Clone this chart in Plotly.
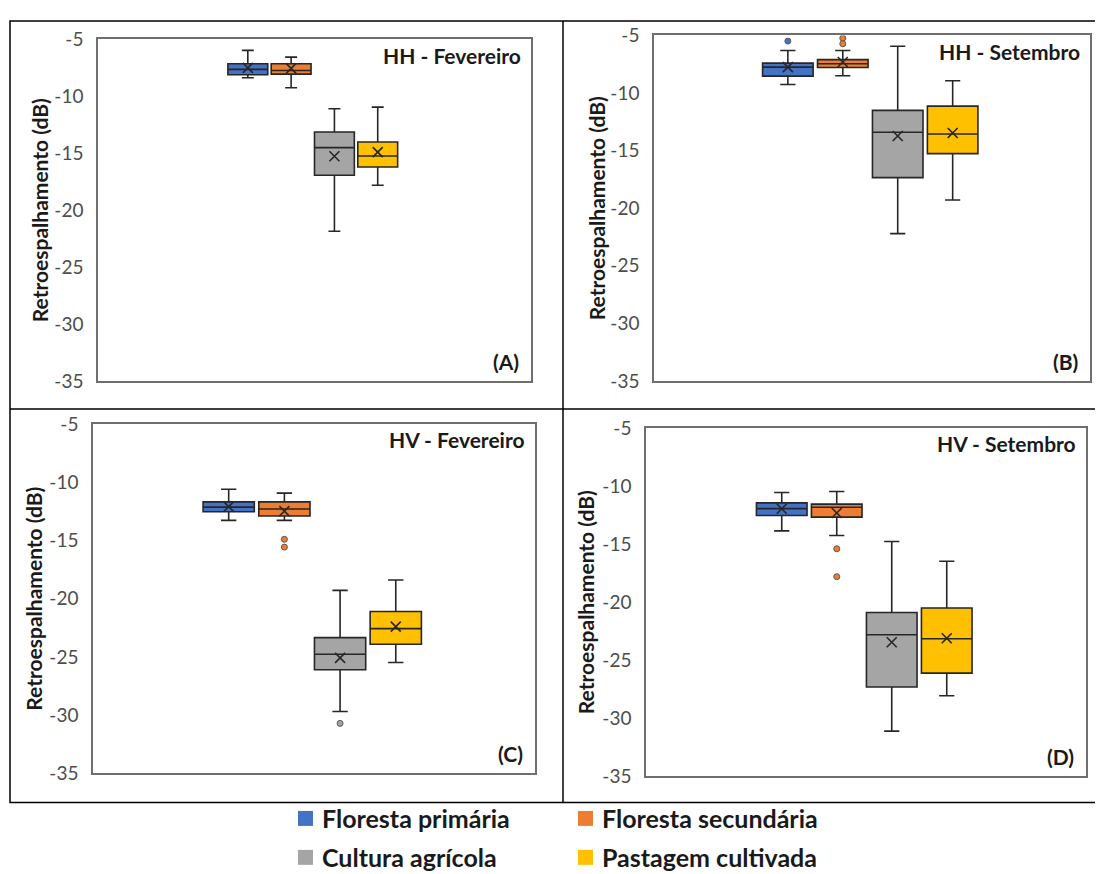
import plotly.graph_objects as go

# ---------------- data ----------------
series = ["Floresta primária", "Floresta secundária", "Cultura agrícola", "Pastagem cultivada"]
colors = ["#4472C4", "#ED7D31", "#A5A5A5", "#FFC000"]
panel_titles = ["HH - Fevereiro", "HH - Setembro", "HV - Fevereiro", "HV - Setembro"]
panel_letters = ["(A)", "(B)", "(C)", "(D)"]
y_ticks = [-5, -10, -15, -20, -25, -30, -35]
y_tick_text = ["-5", "-10", "-15", "-20", "-25", "-30", "-35"]

# HH - Fevereiro
hh_fev_lower = [-8.36, -9.24, -21.84, -17.80]
hh_fev_q1 = [-8.10, -8.04, -16.93, -16.20]
hh_fev_median = [-7.63, -7.72, -14.50, -15.24]
hh_fev_q3 = [-7.13, -7.13, -13.13, -14.00]
hh_fev_upper = [-5.96, -6.55, -11.08, -10.94]
hh_fev_mean = [-7.50, -7.54, -15.26, -14.89]
hh_fev_outliers = [[], [], [], []]

# HH - Setembro
hh_set_lower = [-9.25, -8.50, -22.20, -19.28]
hh_set_q1 = [-8.53, -7.78, -17.34, -15.26]
hh_set_median = [-7.75, -7.45, -13.40, -13.56]
hh_set_q3 = [-7.40, -7.10, -11.50, -11.13]
hh_set_upper = [-6.30, -6.30, -5.93, -8.93]
hh_set_mean = [-7.75, -7.30, -13.73, -13.47]
hh_set_outliers = [[-5.49], [-5.23, -5.72], [], []]

# HV - Fevereiro
hv_fev_lower = [-13.28, -13.28, -29.68, -25.48]
hv_fev_q1 = [-12.54, -12.90, -26.10, -23.91]
hv_fev_median = [-12.14, -12.30, -24.77, -22.57]
hv_fev_q3 = [-11.69, -11.69, -23.34, -21.10]
hv_fev_upper = [-10.60, -10.94, -19.28, -18.40]
hv_fev_mean = [-12.10, -12.48, -25.08, -22.40]
hv_fev_outliers = [[], [-14.90, -15.57], [-30.70], []]

# HV - Setembro
hv_set_lower = [-13.86, -14.26, -31.10, -28.05]
hv_set_q1 = [-12.54, -12.68, -27.30, -26.10]
hv_set_median = [-11.94, -11.82, -22.80, -23.14]
hv_set_q3 = [-11.45, -11.56, -20.88, -20.50]
hv_set_upper = [-10.56, -10.47, -14.78, -16.47]
hv_set_mean = [-11.96, -12.32, -23.45, -23.10]
hv_set_outliers = [[], [-15.40, -17.80], [], []]

panels = [
    (hh_fev_lower, hh_fev_q1, hh_fev_median, hh_fev_q3, hh_fev_upper, hh_fev_mean, hh_fev_outliers),
    (hh_set_lower, hh_set_q1, hh_set_median, hh_set_q3, hh_set_upper, hh_set_mean, hh_set_outliers),
    (hv_fev_lower, hv_fev_q1, hv_fev_median, hv_fev_q3, hv_fev_upper, hv_fev_mean, hv_fev_outliers),
    (hv_set_lower, hv_set_q1, hv_set_median, hv_set_q3, hv_set_upper, hv_set_mean, hv_set_outliers),
]

# ---------------- layout helpers (target pixels -> paper) ----------------
LEFT = 8
Y0, SY = 19.5, 0.975
W, H = 1087, 874


def px(x):
    return (x - LEFT) / W


def py(y):
    fy = (y - Y0) / SY
    return 1 - fy / H


# plot-area boxes in target pixels: (left, top, right, bottom)
plot_rects = [(98, 39, 531, 381), (654, 35, 1090, 381), (93, 424, 535, 774), (646, 428, 1086, 777)]
slot_spacing = [0.100, 0.126, 0.126, 0.125]
group_center = -0.004
box_fill = 0.92
ytitle_x = [39, 596, 34, 585]

LINE = "#262626"
FONT = "Lato"

fig = go.Figure()
annotations = []
shapes = []

for p, (lo, q1, med, q3, up, mn, outl) in enumerate(panels):
    ax = "" if p == 0 else str(p + 1)
    xref, yref = "x" + ax, "y" + ax
    sp = slot_spacing[p]
    for i, name in enumerate(series):
        pos = group_center + (i - 1.5) * sp
        fig.add_trace(go.Box(
            x=[pos], q1=[q1[i]], median=[med[i]], q3=[q3[i]],
            lowerfence=[lo[i]], upperfence=[up[i]],
            width=sp * box_fill, whiskerwidth=0.3,
            fillcolor=colors[i], line=dict(color=LINE, width=1.6),
            boxpoints=False, name=name, showlegend=False,
            xaxis=xref, yaxis=yref, hoverinfo="skip",
        ))
        fig.add_trace(go.Scatter(
            x=[pos], y=[mn[i]], mode="markers",
            marker=dict(symbol="x-thin", size=10, line=dict(color=LINE, width=1.6)),
            showlegend=False, xaxis=xref, yaxis=yref, hoverinfo="skip",
        ))
        if outl[i]:
            fig.add_trace(go.Scatter(
                x=[pos] * len(outl[i]), y=outl[i], mode="markers",
                marker=dict(symbol="circle", size=6, color=colors[i],
                            line=dict(color="#595959", width=1)),
                showlegend=False, xaxis=xref, yaxis=yref, hoverinfo="skip",
            ))

    l, t, r, b = plot_rects[p]
    axis_common = dict(showline=True, mirror=True, linecolor="#6f6f6f", linewidth=1.5,
                       showgrid=False, zeroline=False)
    fig.update_layout(**{
        "xaxis" + ax: dict(domain=[px(l), px(r)], range=[-0.5, 0.5], showticklabels=False,
                           anchor=yref, **axis_common),
        "yaxis" + ax: dict(domain=[py(b), py(t)], range=[-35, -5], tickvals=y_ticks,
                           ticktext=y_tick_text,
                           ticks="outside", ticklen=9, tickcolor="rgba(0,0,0,0)",
                           tickfont=dict(family=FONT, size=19, color="#4d4d4d"),
                           anchor=xref, **axis_common),
    })
    annotations.append(dict(text="<b>" + panel_titles[p] + "</b>", xref="paper", yref="paper",
                            x=px(r - 8), y=py(t + 16), xanchor="right", yanchor="middle",
                            showarrow=False, font=dict(family=FONT, size=21, color="#1a1a1a")))
    annotations.append(dict(text="<b>" + panel_letters[p] + "</b>", xref="paper", yref="paper",
                            x=px(r - 10), y=py(b - 20), xanchor="right", yanchor="middle",
                            showarrow=False, font=dict(family=FONT, size=21, color="#1a1a1a")))
    annotations.append(dict(text="<b>Retroespalhamento (dB)</b>", xref="paper", yref="paper",
                            x=px(ytitle_x[p]), y=py((t + b) / 2), textangle=-90,
                            xanchor="center", yanchor="middle", showarrow=False,
                            font=dict(family=FONT, size=21, color="#1a1a1a")))

# table frame (top edge kept just inside the drawable area)
frame_top = max(10, Y0 + 1)
shapes.append(dict(type="rect", xref="paper", yref="paper", x0=px(10), y0=py(frame_top), x1=px(1100),
                   y1=py(803), line=dict(color="black", width=1.5)))
shapes.append(dict(type="line", xref="paper", yref="paper", x0=px(563), y0=py(frame_top), x1=px(563),
                   y1=py(803), line=dict(color="black", width=1.5)))
shapes.append(dict(type="line", xref="paper", yref="paper", x0=px(10), y0=py(409), x1=px(1100),
                   y1=py(409), line=dict(color="black", width=1.5)))

# legend (2 x 2)
leg_x = [298, 578, 298, 578]
leg_y = [819, 819, 858, 858]
for i, name in enumerate(series):
    shapes.append(dict(type="rect", xref="paper", yref="paper",
                       x0=px(leg_x[i]), x1=px(leg_x[i] + 15), y0=py(leg_y[i] - 7.5), y1=py(leg_y[i] + 7.5),
                       fillcolor=colors[i], line=dict(width=0)))
    annotations.append(dict(text="<b>" + name + "</b>", xref="paper", yref="paper",
                            x=px(leg_x[i] + 22), y=py(leg_y[i]), xanchor="left", yanchor="middle",
                            showarrow=False, font=dict(family=FONT, size=25, color="#1a1a1a")))

fig.update_layout(width=W, height=H, margin=dict(l=0, r=0, t=0, b=0),
                  paper_bgcolor="white", plot_bgcolor="white", showlegend=False,
                  annotations=annotations, shapes=shapes)

fig.write_html("out.html")
